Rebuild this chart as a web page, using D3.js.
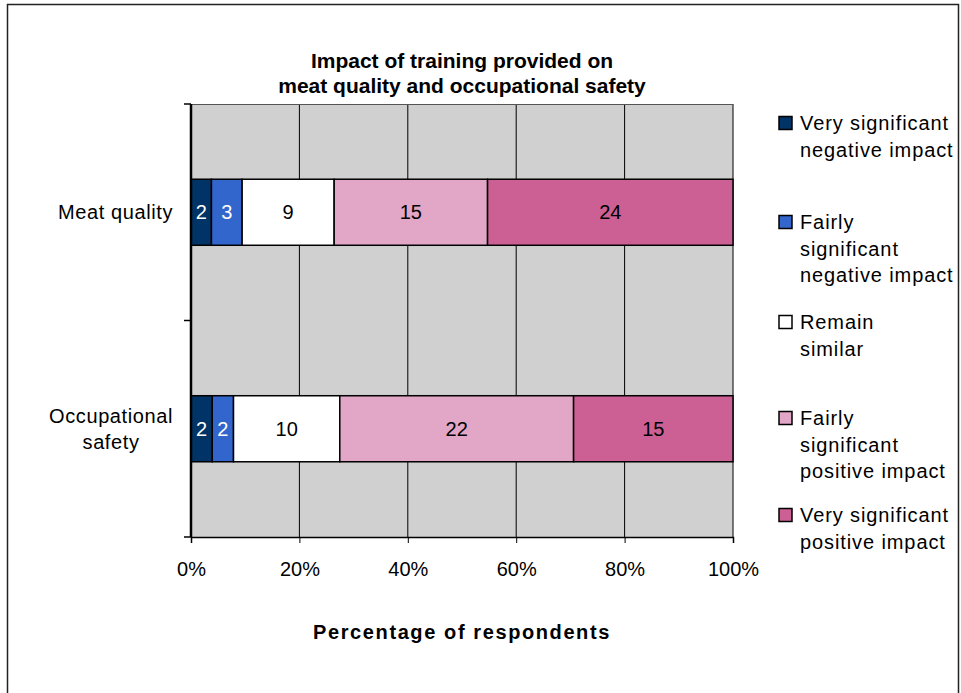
<!DOCTYPE html>
<html>
<head>
<meta charset="utf-8">
<script src="https://cdn.jsdelivr.net/npm/d3@7"></script>
<style>
  html, body { margin: 0; padding: 0; background: #fff; }
  svg { display: block; font-family: "Liberation Sans", Arial, sans-serif; }
</style>
</head>
<body>
<svg id="chart" width="961" height="693"></svg>
<script>
// ---- data ----
const categories = ["Meat quality", "Occupational safety"];
const categoryLines = [["Meat quality"], ["Occupational", "safety"]];
const seriesNames = [
  "Very significant negative impact",
  "Fairly significant negative impact",
  "Remain similar",
  "Fairly significant positive impact",
  "Very significant positive impact"
];
const legendLines = [
  ["Very significant", "negative impact"],
  ["Fairly", "significant", "negative impact"],
  ["Remain", "similar"],
  ["Fairly", "significant", "positive impact"],
  ["Very significant", "positive impact"]
];
const meatQuality = [2, 3, 9, 15, 24];
const occupationalSafety = [2, 2, 10, 22, 15];
const xTicks = [0, 0.2, 0.4, 0.6, 0.8, 1.0];
const titleLines = ["Impact of training provided on", "meat quality and occupational safety"];
const xTitle = "Percentage of respondents";

// ---- styles ----
const colors = ["#003366", "#3366CC", "#FFFFFF", "#E2A6C6", "#CC6095"];
const labelColors = ["#FFFFFF", "#FFFFFF", "#000000", "#000000", "#000000"];

const svg = d3.select("#chart");
const W = 961, H = 693;
const plot = { x0: 191, x1: 733, y0: 104, y1: 537 };

// outer frame
svg.append("path")
  .attr("d", `M7.5,${H + 2} L7.5,4.5 L958.5,4.5 L958.5,${H + 2}`)
  .attr("fill", "none").attr("stroke", "#222").attr("stroke-width", 1.5);

const x = d3.scaleLinear().domain([0, 1]).range([plot.x0, plot.x1]);
const y = d3.scaleBand().domain(categories).range([plot.y0, plot.y1]).padding(0);

// plot background
svg.append("rect")
  .attr("x", plot.x0).attr("y", plot.y0)
  .attr("width", plot.x1 - plot.x0).attr("height", plot.y1 - plot.y0)
  .attr("fill", "#D0D0D0");

// vertical gridlines
svg.append("g").selectAll("line").data(xTicks.slice(1)).join("line")
  .attr("x1", d => x(d)).attr("x2", d => x(d))
  .attr("y1", plot.y0).attr("y2", plot.y1)
  .attr("stroke", "#000").attr("stroke-width", 1);

// plot top border
svg.append("line")
  .attr("x1", plot.x0).attr("x2", plot.x1)
  .attr("y1", plot.y0 + 0.5).attr("y2", plot.y0 + 0.5)
  .attr("stroke", "#555").attr("stroke-width", 1);

// bars
const data = [meatQuality, occupationalSafety];
const barFrac = 0.305;
data.forEach((vals, ci) => {
  const total = d3.sum(vals);
  const band = y.bandwidth();
  const bh = band * barFrac;
  const by = y(categories[ci]) + (band - bh) / 2;
  let cum = 0;
  const segs = vals.map((v, si) => {
    const s = { si, v, a: cum / total, b: (cum + v) / total };
    cum += v;
    return s;
  });
  const g = svg.append("g");
  g.selectAll("rect").data(segs).join("rect")
    .attr("x", d => x(d.a)).attr("y", by)
    .attr("width", d => x(d.b) - x(d.a)).attr("height", bh)
    .attr("fill", d => colors[d.si])
    .attr("stroke", "#000").attr("stroke-width", 1.5);
  g.selectAll("text").data(segs).join("text")
    .attr("x", d => (x(d.a) + x(d.b)) / 2)
    .attr("y", by + bh / 2)
    .attr("dy", "0.36em")
    .attr("text-anchor", "middle")
    .attr("font-size", 20)
    .attr("fill", d => labelColors[d.si])
    .text(d => d.v);
});

// x axis
const xAxis = d3.axisBottom(x).tickValues(xTicks).tickFormat(d3.format(".0%")).tickSize(6).tickPadding(19);
const gx = svg.append("g").attr("transform", `translate(0,${plot.y1})`).call(xAxis);
gx.select(".domain").attr("stroke", "#000").attr("stroke-width", 1.5);
gx.selectAll(".tick line").attr("stroke", "#000");
gx.selectAll(".tick text").attr("font-size", 20).attr("fill", "#000")
  .attr("font-family", "Liberation Sans, Arial, sans-serif");

// y axis line + boundary ticks
svg.append("line")
  .attr("x1", plot.x0).attr("x2", plot.x0)
  .attr("y1", plot.y0).attr("y2", plot.y1)
  .attr("stroke", "#000").attr("stroke-width", 2.5);
const bounds = categories.map(c => y(c)).concat([plot.y1]);
svg.append("g").selectAll("line").data(bounds).join("line")
  .attr("x1", plot.x0 - 7).attr("x2", plot.x0)
  .attr("y1", d => d).attr("y2", d => d)
  .attr("stroke", "#000").attr("stroke-width", 1.5);

// y category labels
const lh = 26;
categories.forEach((c, ci) => {
  const lines = categoryLines[ci];
  const cy = y(c) + y.bandwidth() / 2;
  const t = svg.append("text")
    .attr("text-anchor", "middle")
    .attr("font-size", 20).attr("letter-spacing", 0.6).attr("fill", "#000");
  const tmp = svg.append("text").attr("font-size", 20).attr("letter-spacing", 0.6)
    .text(lines.reduce((a, b) => a.length > b.length ? a : b));
  const wMax = tmp.node().getComputedTextLength();
  tmp.remove();
  const cx = 173 - wMax / 2;
  lines.forEach((ln, li) => {
    t.append("tspan")
      .attr("x", cx)
      .attr("y", cy + (li - (lines.length - 1) / 2) * lh)
      .attr("dy", "0.36em")
      .text(ln);
  });
});

// title
svg.append("g").selectAll("text").data(titleLines).join("text")
  .attr("x", (plot.x0 + plot.x1) / 2)
  .attr("y", (d, i) => 60 + i * 25)
  .attr("dy", "0.36em")
  .attr("text-anchor", "middle")
  .attr("font-size", 21).attr("font-weight", "bold")
  .text(d => d);

// x title
svg.append("text")
  .attr("x", (plot.x0 + plot.x1) / 2).attr("y", 632)
  .attr("dy", "0.36em")
  .attr("text-anchor", "middle")
  .attr("font-size", 20).attr("font-weight", "bold").attr("letter-spacing", 1.6)
  .text(xTitle);

// legend
const legendY = [123, 222, 322, 418, 515];
const legLh = 26.5;
const lg = svg.append("g");
seriesNames.forEach((s, i) => {
  const yy = legendY[i];
  lg.append("rect")
    .attr("x", 779).attr("y", yy - 6.5)
    .attr("width", 13).attr("height", 13)
    .attr("fill", colors[i]).attr("stroke", "#000").attr("stroke-width", 1.5);
  const t = lg.append("text").attr("font-size", 20).attr("letter-spacing", 0.9).attr("fill", "#000");
  legendLines[i].forEach((ln, li) => {
    t.append("tspan").attr("x", 800).attr("y", yy + li * legLh).attr("dy", "0.36em").text(ln);
  });
});
</script>
</body>
</html>
